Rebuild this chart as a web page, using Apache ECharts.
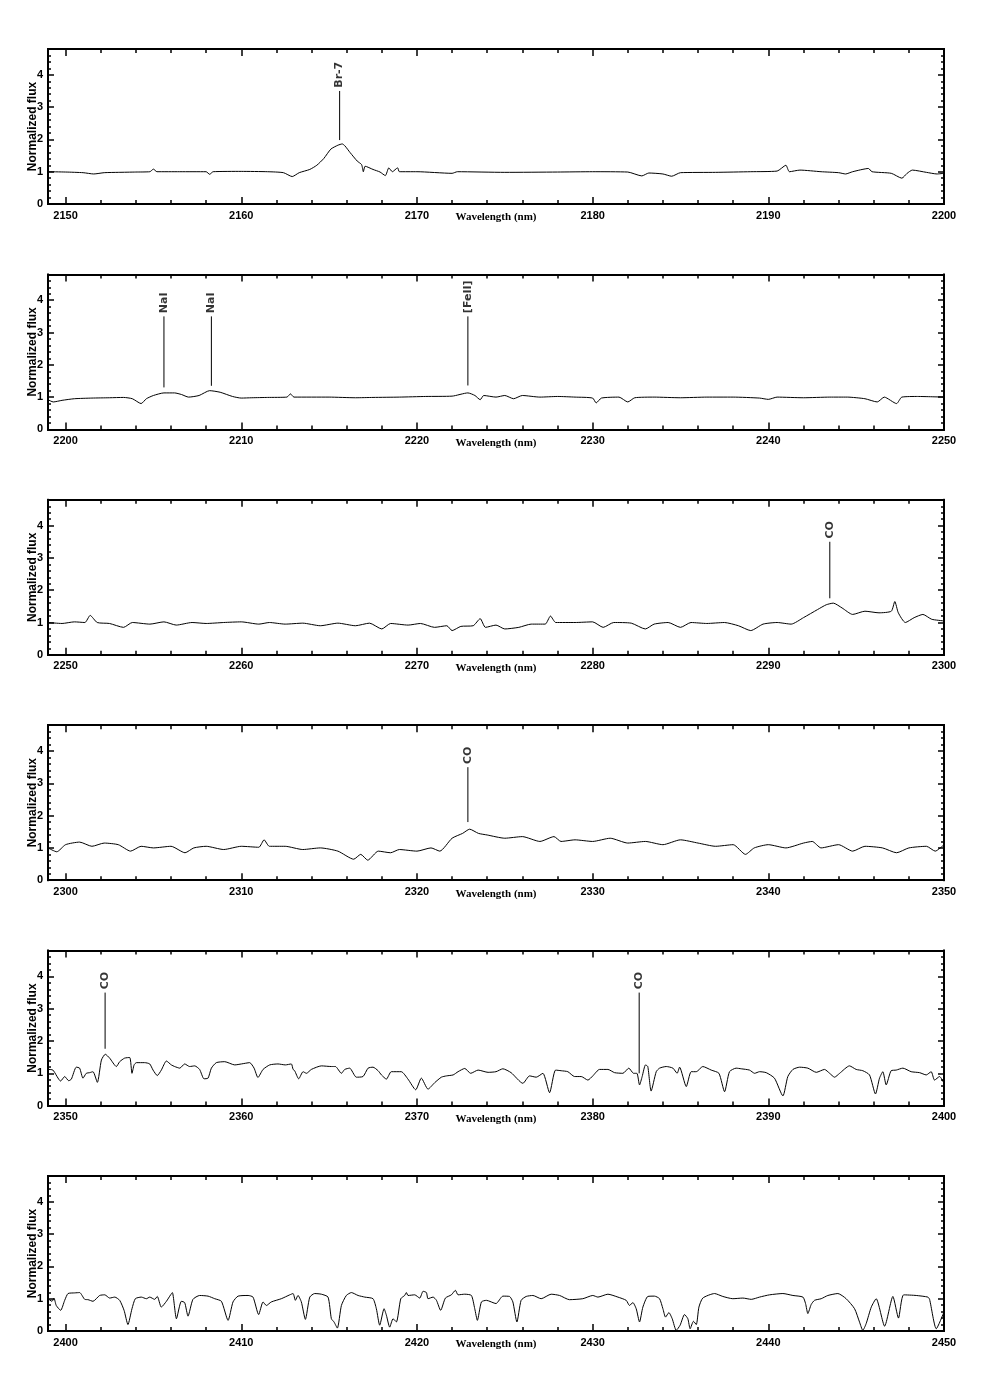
<!DOCTYPE html>
<html><head><meta charset="utf-8">
<script src="https://cdn.jsdelivr.net/npm/echarts@6/dist/echarts.min.js"></script>
<style>html,body{margin:0;padding:0;background:#fff}#c{width:981px;height:1388px}</style>
</head><body><div id="c"></div>
<script>
// ---- data ----
const xRanges = [[2149,2200],[2199,2250],[2249,2300],[2299,2350],[2349,2400],[2399,2450]];
const xMajorTicks = [
  [2150,2160,2170,2180,2190,2200],
  [2200,2210,2220,2230,2240,2250],
  [2250,2260,2270,2280,2290,2300],
  [2300,2310,2320,2330,2340,2350],
  [2350,2360,2370,2380,2390,2400],
  [2400,2410,2420,2430,2440,2450]
];
const yRange = [0, 4.8];
const yTicks = [0,1,2,3,4];
const xTitle = 'Wavelength (nm)';
const yTitle = 'Normalized flux';

const spec1 = [[2149.0,1.00],[2150.0,0.99],[2151.0,0.97],[2151.6,0.93],[2152.2,0.97],[2153.0,0.98],[2154.0,0.99],[2154.8,1.0],[2155.0,1.08],[2155.2,1.0],[2156.5,1.0],[2158.0,1.0],[2158.2,0.92],[2158.4,1.0],[2160.0,1.01],[2161.5,1.0],[2162.4,0.97],[2162.9,0.85],[2163.3,0.97],[2163.9,1.07],[2164.3,1.2],[2164.7,1.41],[2165.1,1.7],[2165.5,1.82],[2165.75,1.86],[2165.9,1.80],[2166.2,1.59],[2166.6,1.33],[2166.85,1.22],[2166.95,1.0],[2167.05,1.17],[2167.5,1.07],[2167.9,0.99],[2168.2,0.88],[2168.4,1.12],[2168.6,1.0],[2168.9,1.12],[2169.0,1.0],[2170,1.0],[2172.0,0.95],[2172.3,1.0],[2175,0.98],[2178,0.99],[2180,1.0],[2182,0.99],[2182.8,0.87],[2183.2,0.96],[2184.0,0.93],[2184.5,0.86],[2185.0,0.97],[2187,0.98],[2189,1.0],[2190.5,1.02],[2191.0,1.2],[2191.2,1.0],[2191.8,1.05],[2193,1.0],[2194.0,0.97],[2194.4,0.93],[2194.8,1.0],[2195.7,1.1],[2195.9,1.0],[2197.0,0.95],[2197.6,0.8],[2197.9,0.95],[2198.2,1.05],[2199,0.98],[2199.6,0.93],[2200,0.95]];
const spec2 = [[2199.0,0.92],[2199.3,0.85],[2199.8,0.9],[2200.5,0.95],[2201.5,0.97],[2202.5,0.98],[2203.3,0.99],[2203.8,0.95],[2204.3,0.8],[2204.6,0.95],[2205.0,1.05],[2205.6,1.13],[2206.2,1.13],[2206.6,1.08],[2207.0,1.0],[2207.6,1.05],[2208.2,1.2],[2208.8,1.15],[2209.5,1.02],[2210.0,0.97],[2210.6,0.98],[2211.5,0.99],[2212.6,1.0],[2212.8,1.1],[2213.0,1.0],[2215,1.0],[2216.5,0.98],[2217.5,0.99],[2219,1.0],[2220.5,1.02],[2222,1.03],[2222.9,1.13],[2223.3,1.05],[2223.6,0.92],[2223.8,1.05],[2224.5,1.0],[2225,1.05],[2225.5,0.95],[2226,1.05],[2227,1.0],[2228,1.02],[2229,1.0],[2230.0,0.97],[2230.2,0.82],[2230.5,0.97],[2231.5,1.0],[2232.0,0.85],[2232.4,0.98],[2233.5,1.0],[2235,0.98],[2236.5,1.0],[2238,1.0],[2239.5,0.97],[2240,0.93],[2240.5,1.0],[2242,0.98],[2243.5,1.0],[2244.5,1.0],[2245.5,0.95],[2246.2,0.85],[2246.6,1.0],[2247.3,0.8],[2247.6,1.0],[2248.5,1.02],[2250,1.0]];
const spec3 = [[2249,1.0],[2249.8,0.97],[2250.5,1.02],[2251.1,1.0],[2251.4,1.22],[2251.8,1.0],[2252.5,0.97],[2253.3,0.85],[2253.8,1.0],[2254.8,0.95],[2255.6,1.02],[2256.3,0.92],[2257.2,1.0],[2258,0.97],[2259,1.0],[2260,1.02],[2261,0.95],[2261.6,1.0],[2262.5,0.95],[2263.5,0.98],[2264.5,0.9],[2265.5,0.98],[2266.5,0.9],[2267.3,0.98],[2268,0.8],[2268.5,0.97],[2269.5,0.92],[2270.2,0.97],[2271,0.85],[2271.7,0.9],[2272.0,0.75],[2272.5,0.88],[2273.2,0.9],[2273.6,1.12],[2273.9,0.85],[2274.5,0.92],[2275.0,0.8],[2275.8,0.85],[2276.5,0.95],[2277.3,0.95],[2277.6,1.2],[2277.9,1.0],[2279,1.0],[2280,1.02],[2280.6,0.85],[2281.2,1.0],[2282.2,0.98],[2283.0,0.8],[2283.5,0.95],[2284.3,1.0],[2285.0,0.85],[2285.6,1.0],[2286.5,0.97],[2287.5,1.0],[2288.3,0.9],[2289.0,0.75],[2289.7,0.95],[2290.5,1.0],[2291.3,0.95],[2292.0,1.15],[2292.8,1.4],[2293.3,1.55],[2293.7,1.6],[2294.2,1.45],[2294.8,1.25],[2295.5,1.35],[2296.3,1.3],[2297.0,1.35],[2297.2,1.65],[2297.4,1.3],[2297.8,1.0],[2298.3,1.15],[2298.8,1.25],[2299.3,1.1],[2300,1.05]];
const spec4 = [[2299,1.0],[2299.5,0.88],[2300,1.1],[2300.8,1.18],[2301.5,1.05],[2302.2,1.15],[2303,1.1],[2303.7,0.9],[2304.3,1.05],[2305,1.0],[2306,1.05],[2306.8,0.85],[2307.3,1.0],[2308,1.05],[2309,0.95],[2310,1.05],[2311,1.02],[2311.3,1.25],[2311.6,1.05],[2312.5,1.05],[2313.5,0.95],[2314.5,1.0],[2315.5,0.9],[2316.4,0.65],[2316.8,0.8],[2317.2,0.62],[2317.8,0.9],[2318.5,0.85],[2319,0.95],[2320,0.9],[2320.8,1.0],[2321.3,0.9],[2322,1.3],[2322.6,1.45],[2323,1.58],[2323.5,1.45],[2324,1.4],[2325,1.3],[2326,1.35],[2327,1.2],[2327.8,1.35],[2328.2,1.2],[2329,1.25],[2330,1.2],[2331,1.3],[2332,1.15],[2333,1.2],[2334,1.1],[2335,1.25],[2336,1.15],[2337,1.05],[2338,1.1],[2338.7,0.8],[2339.2,1.0],[2340,1.1],[2341,1.0],[2342,1.15],[2342.5,1.2],[2343,1.0],[2344,1.1],[2344.8,0.9],[2345.5,1.05],[2346.5,1.0],[2347.3,0.85],[2348,1.0],[2349,1.05],[2349.5,0.9],[2350,1.1]];
const spec5 = [[2349.0,1.12],[2349.28,1.10],[2349.72,0.76],[2349.95,0.90],[2350.18,0.77],[2350.33,0.82],[2350.61,1.19],[2350.8,1.16],[2350.99,0.85],[2351.18,1.0],[2351.37,1.02],[2351.56,1.05],[2351.81,0.72],[2352.04,1.41],[2352.26,1.59],[2352.51,1.47],[2352.89,1.21],[2353.08,1.36],[2353.36,1.47],[2353.65,1.49],[2353.78,1.0],[2353.9,1.26],[2354.03,1.33],[2354.5,1.33],[2354.79,1.29],[2354.98,1.10],[2355.22,0.93],[2355.45,1.10],[2355.74,1.38],[2356.02,1.26],[2356.21,1.21],[2356.5,1.16],[2356.78,1.29],[2357.06,1.21],[2357.35,1.23],[2357.63,1.12],[2357.88,0.83],[2358.11,0.85],[2358.3,1.16],[2358.58,1.33],[2359.06,1.36],[2359.63,1.26],[2360.01,1.29],[2360.48,1.33],[2360.73,1.16],[2360.95,0.87],[2361.24,1.12],[2361.62,1.26],[2362.09,1.29],[2362.51,1.26],[2362.85,1.29],[2362.95,1.12],[2363.04,1.08],[2363.27,0.83],[2363.52,1.05],[2363.71,1.0],[2363.99,1.12],[2364.56,1.23],[2365.13,1.21],[2365.36,1.21],[2365.7,1.0],[2365.89,1.12],[2366.17,1.16],[2366.55,0.88],[2366.93,0.90],[2367.22,1.16],[2367.5,1.19],[2367.79,1.08],[2367.98,0.95],[2368.26,0.82],[2368.54,1.05],[2369.11,1.05],[2369.49,0.82],[2369.93,0.49],[2370.25,0.85],[2370.63,0.51],[2371.01,0.71],[2371.39,0.88],[2371.68,0.92],[2372.06,0.95],[2372.34,1.05],[2372.72,1.15],[2373.06,1.0],[2373.48,1.10],[2374.05,1.03],[2374.5,1.05],[2374.89,1.14],[2375.36,1.02],[2376.03,0.69],[2376.41,0.92],[2376.79,0.88],[2377.17,1.0],[2377.55,0.40],[2377.89,1.10],[2378.21,1.08],[2378.59,1.05],[2378.97,0.90],[2379.35,0.90],[2379.73,0.79],[2380.01,0.92],[2380.39,1.12],[2380.87,1.12],[2381.25,1.02],[2381.72,1.0],[2382.06,1.16],[2382.33,1.0],[2382.52,1.0],[2382.67,0.64],[2382.82,0.90],[2383.01,1.26],[2383.14,1.21],[2383.33,0.45],[2383.62,1.05],[2383.81,1.16],[2384.19,1.21],[2384.57,1.16],[2384.81,1.0],[2384.95,1.19],[2385.33,0.59],[2385.61,1.05],[2385.9,1.05],[2386.27,1.21],[2386.75,1.10],[2387.19,1.0],[2387.51,0.43],[2387.79,1.05],[2388.17,1.16],[2388.46,1.14],[2388.93,1.10],[2389.22,1.0],[2389.5,1.05],[2389.88,1.02],[2390.35,0.85],[2390.83,0.30],[2391.11,0.90],[2391.4,1.12],[2391.78,1.19],[2392.25,1.16],[2392.73,1.03],[2393.2,1.12],[2393.49,1.0],[2393.77,0.88],[2394.06,1.0],[2394.62,1.23],[2395.0,1.12],[2395.38,1.08],[2395.76,0.95],[2396.1,0.36],[2396.33,0.85],[2396.52,1.05],[2396.71,0.64],[2396.99,1.08],[2397.28,1.10],[2397.66,1.16],[2398.13,1.05],[2398.61,1.02],[2398.99,0.95],[2399.27,1.05],[2399.46,0.79],[2399.75,0.90],[2400.0,0.69]];
const spec6 = [[2399.0,1.0],[2399.23,0.92],[2399.34,1.02],[2399.47,0.79],[2399.72,0.64],[2399.95,0.95],[2400.14,1.16],[2400.52,1.18],[2400.8,1.19],[2401.09,0.98],[2401.28,0.97],[2401.56,0.92],[2401.94,1.10],[2402.23,1.12],[2402.51,1.02],[2402.8,1.05],[2403.08,0.95],[2403.33,0.64],[2403.55,0.20],[2403.78,0.69],[2403.97,1.0],[2404.31,1.05],[2404.6,1.0],[2404.79,1.05],[2405.07,0.98],[2405.22,1.07],[2405.45,0.74],[2405.74,0.92],[2405.98,1.12],[2406.08,1.19],[2406.31,0.38],[2406.59,0.92],[2406.78,0.88],[2406.97,0.46],[2407.25,0.98],[2407.63,1.10],[2408.11,1.08],[2408.49,1.0],[2408.87,0.92],[2409.25,0.33],[2409.53,0.90],[2409.82,1.08],[2410.39,1.10],[2410.67,1.05],[2410.99,0.51],[2411.24,0.90],[2411.43,0.79],[2411.71,0.90],[2412.28,1.0],[2412.76,1.12],[2412.95,1.16],[2413.08,0.95],[2413.23,1.10],[2413.42,0.90],[2413.65,0.36],[2413.9,1.05],[2414.18,1.16],[2414.56,1.14],[2414.94,1.05],[2415.13,0.38],[2415.28,0.28],[2415.47,0.09],[2415.7,0.79],[2415.98,1.10],[2416.27,1.19],[2416.65,1.10],[2417.03,1.05],[2417.5,1.0],[2417.69,0.69],[2417.88,0.18],[2418.13,0.69],[2418.26,0.49],[2418.45,0.12],[2418.64,0.38],[2418.83,0.28],[2419.08,1.0],[2419.3,1.10],[2419.4,1.19],[2419.49,1.10],[2419.87,1.12],[2420.16,1.02],[2420.35,1.23],[2420.54,1.19],[2420.63,1.0],[2420.92,1.05],[2421.11,0.95],[2421.35,0.64],[2421.62,1.02],[2421.96,1.12],[2422.19,1.26],[2422.34,1.12],[2422.72,1.14],[2423.1,1.10],[2423.29,0.69],[2423.44,0.33],[2423.67,0.90],[2423.95,0.95],[2424.5,0.85],[2424.89,1.08],[2425.27,1.07],[2425.46,0.90],[2425.69,0.28],[2425.93,0.95],[2426.22,1.07],[2426.6,1.10],[2427.07,1.0],[2427.64,1.14],[2428.12,1.10],[2428.68,0.97],[2429.44,1.0],[2430.01,1.10],[2430.3,1.05],[2430.87,1.14],[2431.44,1.05],[2431.91,0.95],[2432.1,0.79],[2432.29,0.88],[2432.48,0.69],[2432.67,0.28],[2432.86,0.74],[2433.14,1.07],[2433.52,1.08],[2433.81,1.0],[2434.0,0.69],[2434.15,0.43],[2434.34,0.57],[2434.53,0.38],[2434.76,0.02],[2434.98,0.18],[2435.23,0.51],[2435.42,0.38],[2435.55,0.07],[2435.74,0.30],[2435.9,0.20],[2436.05,0.74],[2436.27,1.02],[2436.94,1.16],[2437.41,1.07],[2437.98,1.0],[2438.55,1.02],[2439.03,0.98],[2439.5,1.05],[2440.07,1.12],[2440.83,1.16],[2441.4,1.10],[2441.97,1.05],[2442.12,0.85],[2442.25,0.54],[2442.44,0.82],[2442.63,0.95],[2443.01,1.0],[2443.39,1.10],[2443.96,1.16],[2444.43,1.0],[2444.91,0.69],[2445.19,0.28],[2445.38,0.02],[2445.57,0.23],[2445.86,0.74],[2446.14,1.0],[2446.62,0.15],[2447.09,1.07],[2447.41,0.40],[2447.7,1.12],[2448.42,1.10],[2449.08,1.05],[2449.18,0.98],[2449.56,0.07],[2450.0,0.59]];
const spectra = [spec1, spec2, spec3, spec4, spec5, spec6];

// line identifications: [label, wavelength, flux at line foot]
const lineIds = [
  [['Br-7', 2165.6, 1.98]],
  [['NaI', 2205.6, 1.30], ['NaI', 2208.3, 1.35], ['[FeII]', 2222.9, 1.36]],
  [['CO', 2293.5, 1.75]],
  [['CO', 2322.9, 1.80]],
  [['CO', 2352.25, 1.76], ['CO', 2382.65, 1.00]],
  []
];
const lineTop = 3.5;
const labelBase = 3.6;

// ---- build ----
const gridTop0 = 49, gridStep = 225.4, gridH = 155, gridLeft = 48, gridW = 896;
const tickFont = {fontFamily:'"Liberation Sans", Arial, sans-serif', fontWeight:'bold', fontSize:11, color:'#000'};
const plain = v => String(v);
const grids=[], xAxes=[], yAxes=[], series=[];

function yMinorVals(){ const a=[]; for(let i=1;i<24;i++){ if(i%5) a.push(+(i*0.2).toFixed(1)); } return a; }

for (let k=0;k<6;k++){
  grids.push({left:gridLeft, width:gridW, top:gridTop0+k*gridStep, height:gridH});
  const [xmin,xmax] = xRanges[k];
  const majors = xMajorTicks[k];
  const minors=[]; for(let v=Math.ceil(xmin/2)*2; v<=xmax; v+=2){ if(v%10) minors.push(v); }
  const axLine = {show:true, onZero:false, lineStyle:{color:'#000', width:2}};
  const base = {gridIndex:k, type:'value', min:xmin, max:xmax, splitLine:{show:false}, axisLine:axLine};
  xAxes.push(Object.assign({}, base, {position:'bottom',
    axisTick:{show:true, inside:true, length:7, customValues:majors, lineStyle:{color:'#000', width:1.5}},
    axisLabel:Object.assign({show:true, customValues:majors, margin:6, formatter:plain}, tickFont),
    name:xTitle, nameLocation:'middle', nameGap:8, nameMoveOverlap:false,
    nameTextStyle:{fontFamily:'"Liberation Serif", "Times New Roman", serif', fontWeight:'bold', fontSize:11, color:'#000', verticalAlign:'top'}}));
  xAxes.push(Object.assign({}, base, {position:'bottom',
    axisTick:{show:true, inside:true, length:4, customValues:minors, lineStyle:{color:'#000', width:1.5}},
    axisLabel:{show:false}}));
  xAxes.push(Object.assign({}, base, {position:'top',
    axisTick:{show:true, inside:true, length:7, customValues:majors, lineStyle:{color:'#000', width:1.5}},
    axisLabel:{show:false}}));
  xAxes.push(Object.assign({}, base, {position:'top',
    axisTick:{show:true, inside:true, length:4, customValues:minors, lineStyle:{color:'#000', width:1.5}},
    axisLabel:{show:false}}));

  const ybase = {gridIndex:k, type:'value', min:yRange[0], max:yRange[1], splitLine:{show:false}, axisLine:axLine};
  const ym = yMinorVals();
  yAxes.push(Object.assign({}, ybase, {position:'left',
    axisTick:{show:true, inside:true, length:6, customValues:yTicks, lineStyle:{color:'#000', width:1.5}},
    axisLabel:Object.assign({show:true, customValues:yTicks, margin:5, formatter:plain}, tickFont),
    name:yTitle, nameLocation:'middle', nameGap:9, nameMoveOverlap:false,
    nameTextStyle:{fontFamily:'"Liberation Sans", Arial, sans-serif', fontWeight:'bold', fontSize:12, color:'#000'}}));
  yAxes.push(Object.assign({}, ybase, {position:'left',
    axisTick:{show:true, inside:true, length:3, customValues:ym, lineStyle:{color:'#000', width:1.5}},
    axisLabel:{show:false}}));
  yAxes.push(Object.assign({}, ybase, {position:'right',
    axisTick:{show:true, inside:true, length:6, customValues:yTicks, lineStyle:{color:'#000', width:1.5}},
    axisLabel:{show:false}}));
  yAxes.push(Object.assign({}, ybase, {position:'right',
    axisTick:{show:true, inside:true, length:3, customValues:ym, lineStyle:{color:'#000', width:1.5}},
    axisLabel:{show:false}}));

  series.push({type:'line', xAxisIndex:4*k, yAxisIndex:4*k, data:spectra[k], symbol:'none', showSymbol:false,
    smooth:0.2, lineStyle:{color:'#000', width:1}, silent:true, clip:true, z:3});

  lineIds[k].forEach(([lab, wl, foot]) => {
    series.push({type:'line', xAxisIndex:4*k, yAxisIndex:4*k, data:[[wl, foot],[wl, lineTop]], symbol:'none',
      lineStyle:{color:'#000', width:1}, silent:true, z:2});
    series.push({type:'scatter', xAxisIndex:4*k, yAxisIndex:4*k, data:[[wl, labelBase]], symbolSize:0, silent:true,
      label:{show:true, formatter:lab, rotate:90, position:'inside', align:'left', verticalAlign:'middle',
        fontFamily:'"DejaVu Sans", sans-serif', fontWeight:'bold', fontSize:11, color:'#000'}});
  });
}

const chart = echarts.init(document.getElementById('c'), null, {renderer:'canvas'});
chart.setOption({animation:false, backgroundColor:'#fff', grid:grids, xAxis:xAxes, yAxis:yAxes, series});
</script>
</body></html>
